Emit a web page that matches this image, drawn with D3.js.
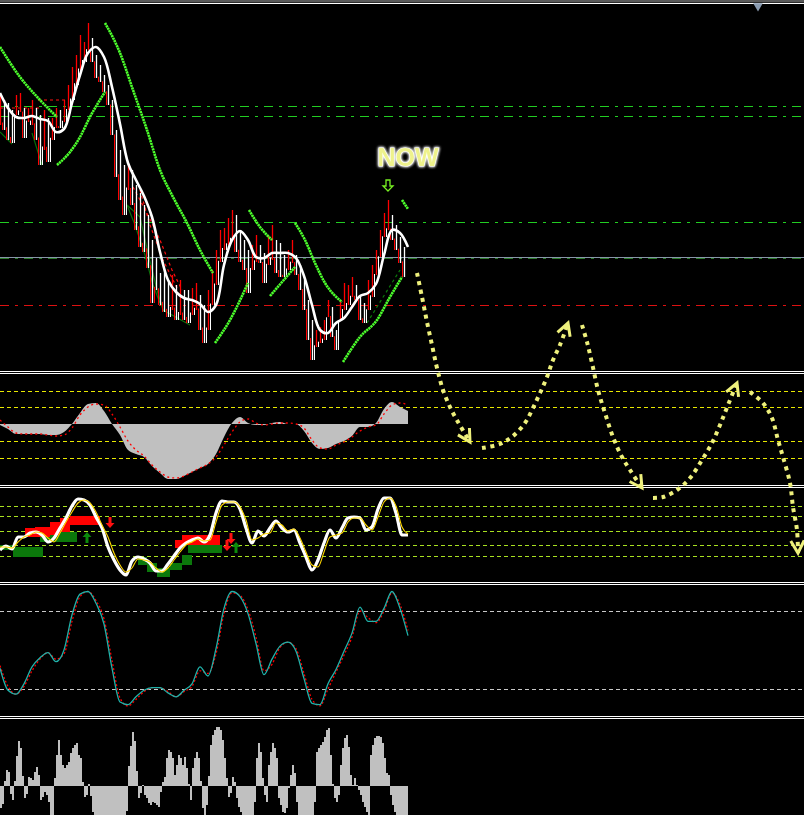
<!DOCTYPE html>
<html><head><meta charset="utf-8">
<script src="https://cdn.jsdelivr.net/npm/d3@7"></script>
<style>html,body{margin:0;padding:0;background:#000;overflow:hidden}svg{display:block}</style>
</head><body><svg id="c" width="804" height="815"></svg>
<script>
// ---------------- DATA ----------------
// main panel: candle highs / lows, one sample every 2 bars
const candleHigh = [275,270,267,260,275,277,262,262,270,262,255,260,252,252,262,260,270,285,303,315,335,328,347,332,315,305,295,285,270,240,220,205,207,200,185,177,165,155,130,112,97,100,90,95,85,90,80,80,82,87,75,65,80,100,120,140,142,152,160,155,140,130,120,125,135,125,117,135,145,130,127,115,120,130,115,105,90,70,50,40,43,50,70,63,40,70,87,85,93,85,75,67,90,105,120,140,157,170,155,145,133,123];
const candleLow  = [245,240,230,227,255,258,232,248,245,230,205,220,208,230,242,242,248,260,270,285,300,308,320,308,292,288,278,265,235,193,170,155,180,165,140,123,118,102,67,80,65,58,53,60,50,55,50,47,55,60,40,27,40,65,85,108,120,125,130,118,108,100,77,100,108,107,87,105,110,97,93,93,100,107,95,80,60,30,10,23,27,30,53,33,20,50,60,65,73,70,50,47,60,73,95,113,133,140,130,120,107,93];
// main panel: smooth moving average, one sample every 4 bars
const maLine = [277,262,253,252,254,251,249,238,241,267,295,317,323,313,283,246,207,190,174,153,118,90,78,72,70,66,58,65,105,130,139,130,113,112,117,117,117,112,94,65,40,37,47,52,63,74,77,86,115,140,137,123];
// envelope segments [bar, value]
const envUpper = [
  [[0,323],[10,293],[20,270],[28.5,253]],
  [[52.5,347],[60,317],[66.5,280],[73.5,240],[80,200],[86.5,173],[93.5,147],[100,120],[106.5,97]],
  [[124.5,160],[130,143],[136,130]],
  [[147.5,147],[152.5,130],[157.5,107],[162.5,87],[171,68]],
  [[201,170],[204,161]]
];
const envLower = [
  [[28.5,205],[35,218],[40,233],[45,253],[52.5,278]],
  [[107.5,27],[115,50],[124,87]],
  [[135,74],[147.5,103]],
  [[171.5,8],[180,33],[188.5,50],[195,73],[201,93]]
];
const darkGreenLines = [
  [[0,238],[6,226]],
  [[16,237],[21,205]],
  [[63.5,165],[70,153],[74,117],[78.5,80],[81.5,60],[95,45]],
  [[63.5,165],[67.5,145],[72.5,115],[76.5,85],[80,67]]
];
const darkGreenDashed = [[183.5,47],[200,100]];
const redDotted = [
  [[0,262],[20,262]],
  [[19,270],[33.5,270]],
  [[66.5,183],[73.5,157],[80,130],[86,100],[91,80]],
  [[70,180],[75,145],[81.5,110],[89,80]]
];
const mainLevels = [264,254,148];   // green dash-dot
const mainGrey = 113;               // grey solid level
const mainRed = 65;                 // red dash-dot
// forecast path (drawn in main-panel units)
const forecast = [
  [[208.5,97],[211,73],[213.5,48],[216,25],[218.5,2],[221.5,-20],[225,-37],[229,-52],[235,-72]],
  [[241,-78],[250,-74],[256.5,-66],[262.5,-53],[266.5,-38],[270,-23],[273.5,-7],[276.5,10],[280,25],[284,47]],
  [[291,45],[293.5,28],[296,7],[299,-20],[302.5,-43],[306.5,-67],[311,-87],[315,-100],[321,-118]],
  [[326.5,-128],[331.5,-127],[338.5,-120],[345,-108],[351,-90],[356,-73],[360,-55],[364,-35],[368.5,-13]],
  [[375,-22],[381.5,-33],[386,-48],[389,-70],[391.5,-87],[395,-113],[396.5,-137],[398.5,-160],[399,-183]]
];
const nowLabel = {bar:204, value:213, text:"NOW"};
const nowArrow = {bar:194, value:184};

// panel 2 oscillator, one sample every 4 bars
const oscHist = [-1,-5,-10,-10,-10,-10,-11,-11,-8,0,11,20,21,13,0,-11,-26,-30,-33,-42,-49,-55,-55,-52,-48,-44,-40,-30,-13,1,7,1,-1,-1,1,2,0,0,-7,-19,-25,-24,-20,-17,-12,-3,-3,1,15,22,17,13];
const oscSignal = [4,-3,-9,-10,-10,-10,-11,-12,-11,-4,9,17,20,19,10,-3,-17,-26,-32,-41,-48,-53,-54,-52,-48,-44,-40,-33,-21,-8,2,5,1,-1,0,1,1,0,-4,-16,-24,-25,-21,-18,-13,-7,-3,-1,10,19,21,19];
const oscLevels = [33,17,-17,-34];

// panel 3, one sample every 3 bars
const rsiFast = [-19,-15,-18,-6,-6,-2,-1,-4,-11,-7,3,13,25,32,31,26,14,3,-16,-29,-39,-44,-30,-26,-28,-32,-40,-40,-33,-25,-17,-12,-9,-7,-11,-4,18,30,29,29,22,3,-12,0,-5,3,10,3,-1,1,-12,-26,-39,-29,-12,1,-7,3,13,14,13,1,4,22,33,33,18,-4,-4];
const rsiSlow = [-16,-16,-17,-11,-6,-4,-1,-2,-7,-11,-2,9,19,28,31,28,19,6,-6,-22,-34,-41,-37,-28,-29,-31,-37,-41,-37,-29,-21,-14,-11,-8,-10,-9,9,26,29,29,24,11,-9,-7,-3,-2,8,6,0,2,-7,-21,-34,-36,-21,-6,-4,-2,9,13,13,6,1,14,29,33,25,4,-3];
const rsiLevels = [25,15,0,-14,-25];
// bands [barFrom, barTo, high, low]
const redBands = [[12.5,17.5,3,-6],[17.5,25,4,-6],[25,30,9,-4],[30,35,13,-1],[35,50,15,6],[87.5,91,-9,-17],[91,110,-4,-14]];
const greenBands = [[0,6.5,-14,-19],[6.5,21.5,-16,-26],[20,38.5,-1,-11],[69,73.5,-26,-34],[73.5,78.5,-32,-41],[78.5,85,-37,-46],[85,91,-32,-39],[91,96,-24,-34],[94,111,-14,-22]];
const signalArrows = [[55,8,"down"],[43.5,-6,"up"],[113.5,-15,"down"],[115.5,-8,"down"],[118,-16,"up"]];

// panel 4 stochastic, one sample every 4 bars
const stochMain = [36,19,16,24,37,44,48,41,50,77,93,95,86,70,36,10,8,14,19,21,21,17,14,19,24,37,30,51,82,95,91,78,55,31,43,53,56,49,28,9,8,24,35,49,63,83,72,72,82,95,82,61];
const stochSignal = [38,22,16,22,34,43,48,43,47,72,91,95,88,74,42,13,7,12,18,21,21,18,14,18,22,34,32,47,78,94,92,81,60,34,39,52,56,51,32,12,7,20,33,46,60,80,75,71,80,94,85,65];
const stochLevels = [80,20];

// panel 5 momentum histogram, one value per bar
const momentum = [
-22,-18,5,16,14,-8,-14,5,30,45, 38,10,-12,-8,9,8,6,14,19,11,
-14,-11,-6,-9,-16,-29,-30,8,31,46, 31,21,18,21,24,33,38,41,43,31,
28,4,-11,-9,2,-10,-26,-30,-31,-31, -31,-31,-31,-31,-31,-31,-31,-31,-31,-31,
-31,-31,-30,-25,20,40,54,45,15,-12, -7,1,-9,-12,-17,-19,-16,-17,-19,-21,
-6,4,9,28,36,34,28,11,21,31, 28,21,29,18,2,-14,18,28,34,28,
5,-22,-30,-19,10,41,51,56,59,59, 56,46,28,8,-11,-7,9,4,-12,-21,
-26,-31,-31,-31,-31,-31,-31,-16,28,43, 34,8,-9,-16,21,34,43,38,28,-12,
-19,-26,-27,-22,-2,11,21,13,-16,-31, -31,-31,-31,-31,-31,-31,-31,-16,34,38,
41,44,49,56,58,31,2,-12,-16,-9, 21,38,48,51,39,11,1,8,1,-4,
-9,-16,-21,-26,-29,31,41,48,50,50, 49,43,28,13,11,-9,-19,-26,-31,-31,
-31,-31,-31,-31];

// ---------------- SCALES ----------------
const svg = d3.select("#c");
const W = 804;
const x = d3.scaleLinear().domain([0,402]).range([0,804]);
const yMain = d3.scaleLinear().domain([0,366]).range([370,4]);
const yOsc = d3.scaleLinear().domain([-50,50]).range([474,374]);
const yRsi = d3.scaleLinear().domain([-46,46]).range([577,485]);
const ySto = d3.scaleLinear().domain([0,100]).range([715,585]);
const yMom = d3.scaleLinear().domain([-30,68]).range([816,718]);

svg.append("rect").attr("width",804).attr("height",815).attr("fill","#000");

const defs = svg.append("defs");
function clip(id,y0,y1){ defs.append("clipPath").attr("id",id).append("rect").attr("x",0).attr("y",y0).attr("width",W).attr("height",y1-y0); return `url(#${id})`; }
const glow = defs.append("filter").attr("id","glow").attr("x","-30%").attr("y","-30%").attr("width","160%").attr("height","160%");
glow.append("feGaussianBlur").attr("in","SourceAlpha").attr("stdDeviation",1.6).attr("result","b");
glow.append("feFlood").attr("flood-color","#ffffff");
glow.append("feComposite").attr("in2","b").attr("operator","in").attr("result","g");
const fm = glow.append("feMerge"); fm.append("feMergeNode").attr("in","g"); fm.append("feMergeNode").attr("in","g"); fm.append("feMergeNode").attr("in","SourceGraphic");

function hline(g,y,color,dash,w){ g.append("line").attr("x1",0).attr("x2",W).attr("y1",Math.round(y)+0.5).attr("y2",Math.round(y)+0.5).attr("stroke",color).attr("stroke-width",w||1).attr("stroke-dasharray",dash||null); }

// ---------------- FRAME ----------------
svg.append("rect").attr("x",0).attr("y",0).attr("width",W).attr("height",2.5).attr("fill","#5a5a5a");
hline(svg,3,"#ffffff");
svg.append("path").attr("d",d3.symbol(d3.symbolTriangle,40)()).attr("transform","translate(758,6) rotate(180)").attr("fill","#8a9bb0");
[[371,373],[485,487],[582,584],[716,718]].forEach(p=>{ hline(svg,p[0],"#ffffff"); hline(svg,p[1],"#ffffff"); });

// ---------------- MAIN PANEL ----------------
const gM = svg.append("g").attr("clip-path",clip("cm",4,370));
mainLevels.forEach(v=>hline(gM,yMain(v),"#22cc22","9,6,3,6"));
hline(gM,yMain(mainGrey),"#8796a8");
hline(gM,yMain(mainGrey)+1,"#2a7a2a","9,6,3,6");
hline(gM,yMain(mainRed),"#dd1111","9,6,3,6");

const lineM = d3.line().x(d=>x(d[0])).y(d=>yMain(d[1]));
darkGreenLines.forEach(s=>gM.append("path").attr("d",lineM(s)).attr("fill","none").attr("stroke","#0b6e0b").attr("stroke-width",1.2));
gM.append("path").attr("d",lineM(darkGreenDashed)).attr("fill","none").attr("stroke","#0b7a0b").attr("stroke-width",1.2).attr("stroke-dasharray","3,3");
redDotted.forEach(s=>gM.append("path").attr("d",lineM(s)).attr("fill","none").attr("stroke","#ff1010").attr("stroke-width",1.2).attr("stroke-dasharray","3,3"));

// candles
const candles = candleHigh.map((h,i)=>({bar:i*2, hi:h, lo:candleLow[i], up: i===0 ? true : (h+candleLow[i]) >= (candleHigh[i-1]+candleLow[i-1])}));
gM.selectAll("line.cd").data(candles).join("line").attr("class","cd")
  .attr("x1",d=>Math.round(x(d.bar))+0.5).attr("x2",d=>Math.round(x(d.bar))+0.5)
  .attr("y1",d=>yMain(d.hi)).attr("y2",d=>yMain(d.lo))
  .attr("stroke",d=>d.up?"#ff0000":"#ffffff").attr("stroke-width",1.3);
gM.selectAll("line.cd2").data(candles.slice(1)).join("line").attr("class","cd2")
  .attr("x1",d=>Math.round(x(d.bar-1))+0.5).attr("x2",d=>Math.round(x(d.bar-1))+0.5)
  .attr("y1",(d,i)=>yMain(Math.max(d.lo,candles[i].lo)+ (Math.min(d.hi,candles[i].hi)-Math.max(d.lo,candles[i].lo))*0.1))
  .attr("y2",(d,i)=>yMain(Math.min(d.lo,candles[i].lo)))
  .attr("stroke",d=>d.up?"#ffffff":"#ff0000").attr("stroke-width",1);

// envelopes
envUpper.concat(envLower).forEach(s=>gM.append("path").attr("d",d3.line().curve(d3.curveMonotoneX).x(d=>x(d[0])).y(d=>yMain(d[1]))(s))
  .attr("fill","none").attr("stroke","#4cff2c").attr("stroke-width",2.6).attr("stroke-dasharray","2.2,0.6"));

// MA
gM.append("path").attr("d",d3.line().curve(d3.curveCatmullRom).x((d,i)=>x(i*4)).y(d=>yMain(d))(maLine))
  .attr("fill","none").attr("stroke","#ffffff").attr("stroke-width",2.6);

// NOW label
svg.append("text").attr("x",x(nowLabel.bar)).attr("y",yMain(nowLabel.value)+9).attr("text-anchor","middle")
  .attr("font-family","Liberation Sans, Arial, sans-serif").attr("font-weight","bold").attr("font-size",25)
  .attr("fill","#eef28c").attr("stroke","#ffffff").attr("stroke-width",1.2).attr("paint-order","stroke").attr("filter","url(#glow)").text(nowLabel.text);
svg.append("path").attr("transform",`translate(${x(nowArrow.bar)},${yMain(nowArrow.value)})`)
  .attr("d","M-2,-6 L2,-6 L2,0 L5,0 L0,5 L-5,0 L-2,0 Z").attr("fill","none").attr("stroke","#77ee22").attr("stroke-width",1.3);

// ---------------- PANEL 2 ----------------
const g2 = svg.append("g").attr("clip-path",clip("c2",374,485));
oscLevels.forEach(v=>hline(g2,yOsc(v),"#e8e800","4,3"));
g2.append("path").attr("d",d3.area().curve(d3.curveMonotoneX).x((d,i)=>x(i*4)).y0(yOsc(0)).y1(d=>yOsc(d))(oscHist)).attr("fill","#c0c0c0");
g2.append("path").attr("d",d3.line().curve(d3.curveMonotoneX).x((d,i)=>x(i*4)).y(d=>yOsc(d))(oscSignal))
  .attr("fill","none").attr("stroke","#ff0000").attr("stroke-width",1.3).attr("stroke-dasharray","2,3");

// ---------------- PANEL 3 ----------------
const g3 = svg.append("g").attr("clip-path",clip("c3",488,582));
rsiLevels.forEach(v=>hline(g3,yRsi(v),"#a8e020","4,3"));
g3.selectAll("rect.gb").data(greenBands).join("rect").attr("class","gb")
  .attr("x",d=>x(d[0])).attr("width",d=>x(d[1])-x(d[0])).attr("y",d=>yRsi(d[2])).attr("height",d=>yRsi(d[3])-yRsi(d[2])).attr("fill","#0b780b");
g3.selectAll("rect.rb").data(redBands).join("rect").attr("class","rb")
  .attr("x",d=>x(d[0])).attr("width",d=>x(d[1])-x(d[0])).attr("y",d=>yRsi(d[2])).attr("height",d=>yRsi(d[3])-yRsi(d[2])).attr("fill","#ff0000");
g3.append("path").attr("d",d3.line().curve(d3.curveMonotoneX).x((d,i)=>x(i*3)).y(d=>yRsi(d))(rsiFast))
  .attr("fill","none").attr("stroke","#ffffff").attr("stroke-width",3.2);
g3.append("path").attr("d",d3.line().curve(d3.curveMonotoneX).x((d,i)=>x(i*3)).y(d=>yRsi(d))(rsiSlow))
  .attr("fill","none").attr("stroke","#ffd700").attr("stroke-width",1.1);
g3.selectAll("path.ar").data(signalArrows).join("path").attr("class","ar")
  .attr("transform",d=>`translate(${x(d[0])},${yRsi(d[1])}) rotate(${d[2]==="down"?0:180})`)
  .attr("d","M-1.5,-6 L1.5,-6 L1.5,0 L4.5,0 L0,5 L-4.5,0 L-1.5,0 Z")
  .attr("fill",d=>d[2]==="down"?"#ff1010":"#0b8a0b");

// ---------------- PANEL 4 ----------------
const g4 = svg.append("g").attr("clip-path",clip("c4",585,716));
stochLevels.forEach(v=>hline(g4,ySto(v),"#c8c8c8","4,3"));
g4.append("path").attr("d",d3.line().curve(d3.curveMonotoneX).x((d,i)=>x(i*4)).y(d=>ySto(d))(stochSignal))
  .attr("fill","none").attr("stroke","#ff0000").attr("stroke-width",1.3).attr("stroke-dasharray","2,2");
g4.append("path").attr("d",d3.line().curve(d3.curveMonotoneX).x((d,i)=>x(i*4)).y(d=>ySto(d))(stochMain))
  .attr("fill","none").attr("stroke","#20b2aa").attr("stroke-width",1.3);

// ---------------- PANEL 5 ----------------
const g5 = svg.append("g").attr("clip-path",clip("c5",719,815));
g5.selectAll("rect").data(momentum).join("rect")
  .attr("x",(d,i)=>x(i)).attr("width",x(1)-x(0))
  .attr("y",d=>d>=0?yMom(d):yMom(0)).attr("height",d=>Math.abs(yMom(d)-yMom(0)))
  .attr("fill","#c0c0c0");

// ---------------- FORECAST ARROWS ----------------
const gF = svg.append("g");
const fLine = d3.line().curve(d3.curveCatmullRom).x(d=>x(d[0])).y(d=>yMain(d[1]));
const fc = "#eef07c";
forecast.forEach((s,k)=>{
  gF.append("path").attr("d",fLine(s)).attr("fill","none").attr("stroke",fc).attr("stroke-width",4).attr("stroke-dasharray","4,4.5");
  const a=s[s.length-1], b=s[s.length-2];
  const ax=x(a[0]), ay=yMain(a[1]), bx=x(b[0]), by=yMain(b[1]);
  const ang=Math.atan2(ay-by, ax-bx), L=14, sp=0.5;
  const p1=[ax-L*Math.cos(ang-sp), ay-L*Math.sin(ang-sp)], p2=[ax-L*Math.cos(ang+sp), ay-L*Math.sin(ang+sp)];
  gF.append("path").attr("d",`M${p1} L${ax},${ay} L${p2}`).attr("fill","none").attr("stroke",fc).attr("stroke-width",3);
});
</script></body></html>
